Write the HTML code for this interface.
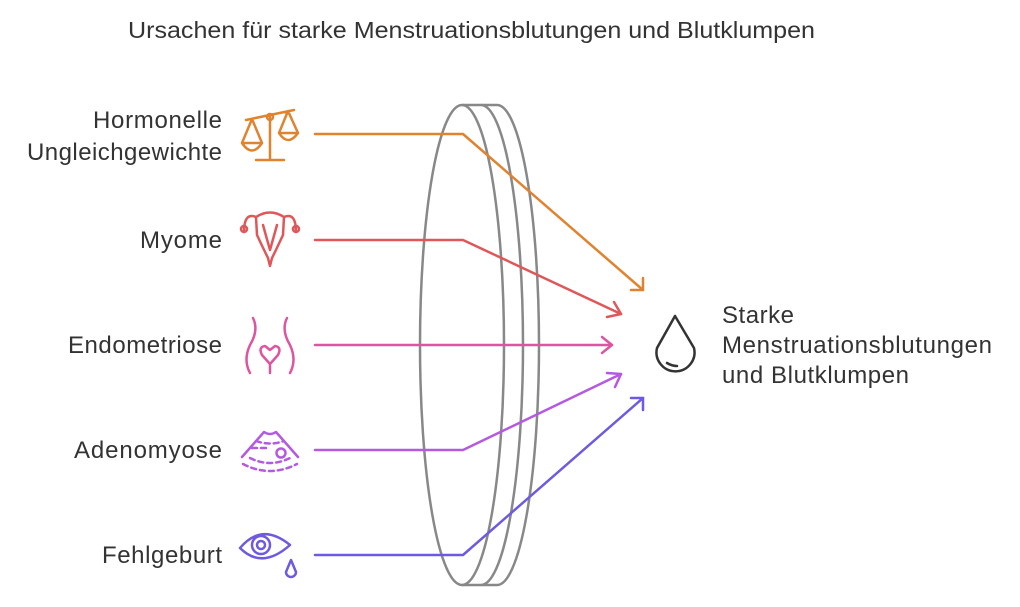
<!DOCTYPE html>
<html><head><meta charset="utf-8"><style>
body{margin:0;background:#fff;width:1020px;height:602px;overflow:hidden;font-family:"Liberation Sans",sans-serif}
</style></head><body>
<svg width="1020" height="602" xmlns="http://www.w3.org/2000/svg" font-family="Liberation Sans, sans-serif">
<text x="128" y="38" font-size="23" fill="#333" textLength="687" lengthAdjust="spacingAndGlyphs">Ursachen für starke Menstruationsblutungen und Blutklumpen</text>
<g font-size="24" fill="#333" lengthAdjust="spacingAndGlyphs">
<text x="93" y="128" textLength="129">Hormonelle</text><text x="27" y="160" textLength="195">Ungleichgewichte</text>
<text x="140" y="248" textLength="82">Myome</text>
<text x="68" y="353" textLength="154">Endometriose</text>
<text x="74" y="458" textLength="148">Adenomyose</text>
<text x="102" y="563" textLength="120">Fehlgeburt</text>
<text x="722" y="323" textLength="72">Starke</text><text x="722" y="353" textLength="270">Menstruationsblutungen</text><text x="722" y="383" textLength="187">und Blutklumpen</text>
</g>
<g fill="none" stroke="#888" stroke-width="2.5">
<path d="M497 105 A42 240 0 0 1 497 585"/>
<path d="M481 105 A42 240 0 0 1 481 585"/>
<path d="M462 105 H497 M462 585 H497"/>
<ellipse cx="462" cy="345" rx="42" ry="240"/>
</g>
<g fill="none" stroke-width="2.5" stroke-linecap="round" stroke-linejoin="round">
<g stroke="#e0832f"><path d="M315 134 H463 L643 290"/><path d="M631 290 H643 V278"/>
<path d="M246 120 L294 110 M270 116 V160 M256 160 H284 M252 119 L242 143 Q252 158 262 143 Z M242 143 H262 M288 111 L279 133 Q288 147 298 133 Z M279 133 H298"/><circle cx="270" cy="117" r="3"/></g>
<g stroke="#e0575a"><path d="M315 240 H463 L621 314"/><path d="M607 317 L621 314 L614 302"/>
<path d="M256 217 Q270 208 284 217 L283 235 Q276 250 272 258 L270 266 L268 258 Q264 250 257 235 Z M263 225 L270 250 L277 225 M256 217 Q244 212 244 232 M284 217 Q296 212 296 232"/><circle cx="244" cy="229" r="3"/><circle cx="296" cy="229" r="3"/></g>
<g stroke="#de559f"><path d="M315 345 H612"/><path d="M602 337 L612 345 L602 353"/>
<path d="M253 318 Q259 330 250 345 Q243 360 250 373 M287 318 Q281 330 290 345 Q297 360 290 373 M270 373 V364 L262 355 Q258 347 265 346 L270 350 L275 346 Q282 347 278 355 L270 364"/></g>
<g stroke="#b45ae0"><path d="M315 450 H463 L621 374"/><path d="M607 373 L621 374 L615 387"/>
<path d="M242 457 L264 432 Q270 436 276 432 L298 457" /><path d="M250 458 Q270 468 290 458 M243 464 Q270 478 297 464 M252 448 H270 M256 441 Q270 446 284 441" stroke-dasharray="5 4"/><circle cx="281" cy="453" r="4.5"/></g>
<g stroke="#6e5ae0"><path d="M315 555 H463 L643 398"/><path d="M631 398 H643 V410"/>
<path d="M240 548 Q262 522 290 545 Q262 570 240 548 Z"/><circle cx="261" cy="545" r="9"/><circle cx="261" cy="545" r="4"/><path d="M291 560 L286 572 A5 5 0 1 0 296 572 Z"/></g>
<path d="M675 316 L657 348 A19 19 0 1 0 694 348 Z" stroke="#333"/><path d="M667 363 Q672 366 677 366" stroke="#333"/>
</g>
</svg>
</body></html>
